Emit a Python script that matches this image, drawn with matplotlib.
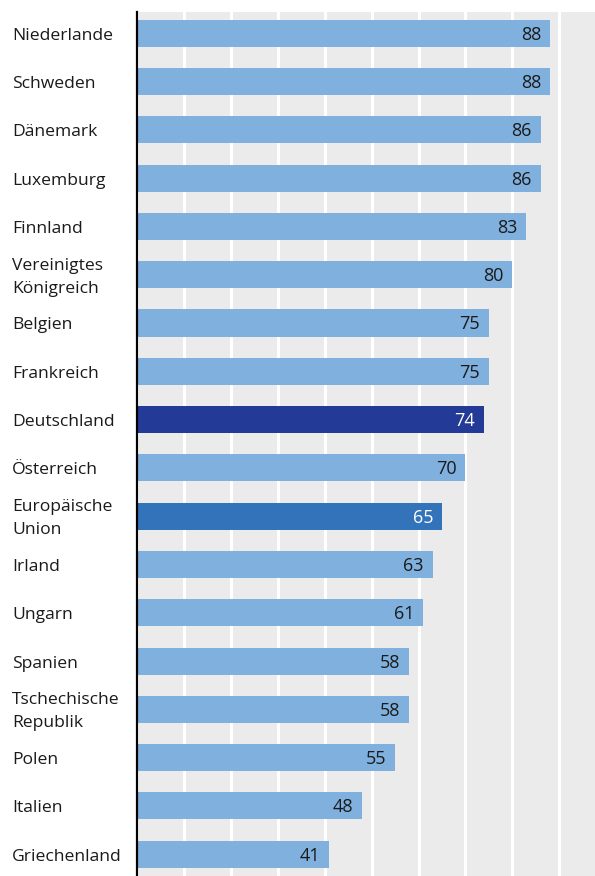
import matplotlib.pyplot as plt
from matplotlib.ticker import MultipleLocator
from matplotlib.transforms import blended_transform_factory

countries = [
    "Niederlande", "Schweden", "Dänemark", "Luxemburg", "Finnland",
    "Vereinigtes\nKönigreich", "Belgien", "Frankreich", "Deutschland",
    "Österreich", "Europäische\nUnion", "Irland", "Ungarn", "Spanien",
    "Tschechische\nRepublik", "Polen", "Italien", "Griechenland",
]
values = [88, 88, 86, 86, 83, 80, 75, 75, 74, 70, 65, 63, 61, 58, 58, 55, 48, 41]

LIGHT = "#7fb0de"
HIGHLIGHT = {"Deutschland": "#233a96", "Europäische\nUnion": "#3373b9"}

plt.rcParams["font.family"] = ["Open Sans", "DejaVu Sans"]

fig = plt.figure(figsize=(5.95, 8.76), dpi=100)
ax = fig.add_axes([137 / 595, 0.0, 1 - 137 / 595, (876 - 12) / 876])
ax.set_facecolor("#ebebeb")

n = len(countries)
ypos = list(range(n))
colors = [HIGHLIGHT.get(c, LIGHT) for c in countries]
ax.barh(ypos, values, height=0.56, color=colors, zorder=3)

for y, v, c in zip(ypos, values, countries):
    dark = c in HIGHLIGHT
    ax.text(v - 1.9, y + 0.03, str(v), ha="right", va="center", fontsize=13,
            color="white" if dark else "#1a1a1a", zorder=4)

ax.set_xlim(0, 97.6)
ax.set_ylim(n - 1 + 0.45, -0.44)
ax.xaxis.set_major_locator(MultipleLocator(10))
ax.grid(axis="x", color="white", linewidth=2.2, zorder=1)
ax.tick_params(axis="x", bottom=False, labelbottom=False)
ax.tick_params(axis="y", left=False, labelleft=False)

for s in ("top", "right", "bottom"):
    ax.spines[s].set_visible(False)
ax.spines["left"].set_color("black")
ax.spines["left"].set_linewidth(1.6)
ax.spines["left"].set_zorder(5)

label_tf = blended_transform_factory(fig.transFigure, ax.transData)
for y, c in zip(ypos, countries):
    fig.text(12 / 595, y + 0.05, c, fontsize=12.6, color="#1a1a1a",
             ha="left", va="center", linespacing=1.58, transform=label_tf)

fig.savefig("out.png", dpi=100)
